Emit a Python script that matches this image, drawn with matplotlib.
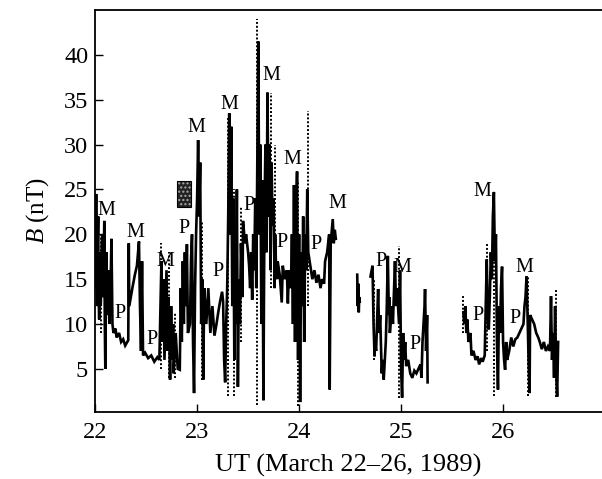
import matplotlib
matplotlib.use("Agg")
import matplotlib.pyplot as plt
from matplotlib.patches import Rectangle

plt.rcParams['font.family'] = ['Liberation Serif', 'DejaVu Serif']
plt.rcParams['mathtext.fontset'] = 'custom'
plt.rcParams['mathtext.it'] = 'Liberation Serif:italic'
plt.rcParams['mathtext.rm'] = 'Liberation Serif'

# ---- data: solid trace segments (time in days of March 1989, B in nT) ----
seg1_t = [22.00, 22.005, 22.01, 22.015, 22.02, 22.025, 22.03, 22.035, 22.04, 22.045, 22.05, 22.055, 22.06,
          22.065, 22.07, 22.075, 22.08, 22.085, 22.09, 22.095, 22.10, 22.105,
          22.11, 22.12, 22.13, 22.14, 22.15, 22.16, 22.17, 22.18, 22.20, 22.21, 22.235, 22.255, 22.275,
          22.295, 22.315, 22.325, 22.33, 22.335, 22.365, 22.39, 22.41, 22.43, 22.44, 22.45, 22.46, 22.47,
          22.49, 22.52, 22.55, 22.58, 22.61, 22.63, 22.65, 22.655, 22.67, 22.68, 22.70, 22.71, 22.72,
          22.735, 22.745, 22.755, 22.765, 22.77, 22.79, 22.81, 22.83, 22.84, 22.85, 22.86, 22.87, 22.88,
          22.89, 22.90, 22.91, 22.93, 22.94, 22.95, 22.96, 22.97, 22.98, 22.99, 23.00, 23.01, 23.02,
          23.03, 23.04, 23.05, 23.06, 23.07, 23.09, 23.11, 23.13, 23.15, 23.17, 23.19, 23.21, 23.225,
          23.245, 23.255, 23.265, 23.275, 23.285, 23.295, 23.305, 23.315, 23.325, 23.335, 23.345, 23.355,
          23.365, 23.37, 23.38, 23.39, 23.40, 23.41, 23.42, 23.43, 23.445, 23.45, 23.47, 23.48, 23.50,
          23.51, 23.52, 23.53, 23.54, 23.55, 23.56, 23.57, 23.58, 23.59, 23.60, 23.61, 23.62, 23.63,
          23.64, 23.65, 23.66, 23.67, 23.68, 23.69, 23.70, 23.71, 23.72, 23.73, 23.74, 23.75, 23.76,
          23.765, 23.775, 23.785, 23.79, 23.81, 23.83, 23.84, 23.86, 23.88, 23.89, 23.90, 23.92, 23.93,
          23.94, 23.95, 23.96, 23.97, 23.98, 23.99, 24.00, 24.01, 24.02, 24.03, 24.04, 24.05, 24.06,
          24.07, 24.08, 24.09, 24.11, 24.13, 24.15, 24.17, 24.19, 24.21, 24.225, 24.245, 24.255, 24.275,
          24.295, 24.30, 24.31, 24.33, 24.34, 24.35, 24.36]
seg1_b = [20, 14, 24.5, 15, 12, 19, 22, 13, 10.5, 16, 18, 12, 14,
          19, 20, 15, 13, 17, 21.5, 10, 5, 12,
          18, 11, 16, 10, 13, 19.5, 10, 9, 9.5, 8.5, 9, 8, 8.3,
          7.6, 8.0, 8.2, 19, 12, 14, 15.5, 16.5, 19.2, 12, 7, 17, 6.5,
          6.8, 6.2, 6.5, 5.8, 6.3, 6.0, 17, 8, 15, 6, 16, 7, 13,
          3.8, 12, 6, 10, 4.5, 9, 5, 4.9, 14, 8, 17, 10, 18,
          12, 18.9, 9, 10, 17, 20, 8, 2.3, 14, 20, 24, 30.5, 22,
          28, 10, 15, 3.8, 14, 10, 14, 9, 12, 8.7, 10, 11.5, 12.5,
          13.6, 12.5, 6, 3.5, 10, 14, 22, 33.5, 20, 32, 12, 24,
          6, 18, 10, 25, 3, 15, 10, 19, 13, 21.5, 19, 20, 18,
          16.5, 14, 18, 12.7, 20, 16, 24, 14, 28, 41.5, 20, 30, 10,
          26, 1.5, 22, 30, 18, 35.8, 22, 30, 16, 28, 21, 24, 14,
          20, 16, 15, 17, 15.5, 12.4, 16.5, 15, 16, 12.3, 16, 14, 20,
          10, 25.5, 8, 22, 27, 6, 20, 1.3, 18, 12, 22, 8, 20,
          16, 25, 18, 16.5, 15, 16, 14.6, 15.5, 14, 15, 14.5, 17, 18,
          20, 2.7, 19, 21.7, 19, 20.5, 19.5]

seg2_t = [24.57, 24.575, 24.58, 24.585, 24.59, 24.595]
seg2_b = [15.5, 12, 14.5, 11.3, 13, 12.5]

seg3_t = [24.70, 24.72, 24.73, 24.74, 24.745, 24.755, 24.775, 24.785, 24.795, 24.81, 24.82, 24.83,
          24.85, 24.86, 24.87, 24.88, 24.885, 24.89, 24.91, 24.92, 24.94, 24.95, 24.96, 24.98, 24.99,
          25.00, 25.01, 25.02, 25.03, 25.04, 25.05, 25.07, 25.09, 25.11, 25.13, 25.15, 25.17, 25.19,
          25.20, 25.21, 25.23, 25.235, 25.245, 25.255, 25.26]
seg3_b = [15.3, 16.5, 10, 6.4, 8, 7, 13.9, 9, 11, 4.5, 6, 3.8,
          8, 12, 17.6, 11, 13, 9, 12, 10, 17, 12, 14, 10, 16,
          5, 1.8, 9, 6, 8, 5.3, 6, 4.5, 4.0, 4.8, 4.5, 5, 5.5,
          4, 8, 12, 13.9, 7, 11, 3.5]

seg4_t = [25.61, 25.62, 25.63, 25.64, 25.65, 25.66, 25.68, 25.69, 25.71, 25.73, 25.75, 25.765,
          25.785, 25.80, 25.82, 25.83, 25.84, 25.85, 25.86, 25.87, 25.88, 25.89, 25.90, 25.91, 25.92,
          25.93, 25.94, 25.95, 25.96, 25.97, 25.98, 25.99, 26.00, 26.01, 26.02, 26.03, 26.04, 26.06,
          26.08, 26.10, 26.12, 26.14, 26.16, 26.18, 26.20, 26.21, 26.22, 26.23, 26.24, 26.25, 26.26,
          26.265, 26.285, 26.305, 26.325, 26.345, 26.36, 26.38, 26.40, 26.42, 26.44, 26.46, 26.47,
          26.48, 26.49, 26.50, 26.51, 26.52, 26.53, 26.54]
seg4_b = [11.3, 10, 12, 9, 10.5, 8, 9, 6.5, 7, 6, 6.4, 5.5,
          6.2, 5.8, 6.5, 12, 17.2, 11, 9.4, 13, 18, 15, 22, 24.7, 17,
          20, 8, 2.7, 12, 9, 14, 16.4, 8, 6, 4.9, 8, 6, 7,
          8.5, 7.5, 8.3, 8.5, 9, 9.5, 10, 12, 13, 15.3, 11, 6, 2.3,
          11, 10.5, 10, 9, 8.5, 8, 7.2, 8, 7, 7.5, 7, 13.1,
          6, 9, 4, 12, 5, 1.9, 8]

# ---- data: dotted spikes (time, low, high) ----
spike_t = [22.06, 22.65, 22.72, 22.78, 23.05, 23.30, 23.36, 23.43, 23.59, 23.72, 23.76,
           23.99, 24.09, 24.73, 24.98, 25.61, 25.84, 25.91, 26.24, 26.52]
spike_lo = [9, 5, 4, 4, 3.8, 2, 2, 8, 1, 14, 16, 0.9, 12, 6, 1.8, 9, 7, 2, 2, 1.9]
spike_hi = [20, 19, 18, 11.3, 21.4, 33, 25, 23, 44, 35.8, 30, 26, 33.7, 15, 18.7, 13.1, 18.9, 24.9, 15.3, 13.9]

# ---- annotations ----
m_t = [22.108, 22.39, 22.69, 22.99, 23.32, 23.73, 23.93, 24.38, 25.01, 25.80, 26.21]
m_b = [22.7, 20.2, 17.0, 31.9, 34.5, 37.7, 28.3, 23.4, 16.3, 24.8, 16.3]
p_t = [22.245, 22.56, 22.87, 23.20, 23.51, 23.83, 24.17, 24.80, 25.14, 25.75, 26.12]
p_b = [11.2, 8.3, 20.6, 15.8, 23.2, 19.1, 18.9, 17.0, 7.7, 11.0, 10.6]

box_t = [22.80, 22.94]
box_b = [23.1, 25.9]

xticks = [22, 23, 24, 25, 26]
yticks = [5, 10, 15, 20, 25, 30, 35, 40]

fig = plt.figure(figsize=(6.02, 4.79), dpi=100)
ax = fig.add_axes([0.158, 0.140, 0.842, 0.839])

for t, b in [(seg1_t, seg1_b), (seg2_t, seg2_b), (seg3_t, seg3_b), (seg4_t, seg4_b)]:
    ax.plot(t, b, color='black', lw=1.9, solid_joinstyle='miter')

ax.vlines(spike_t, spike_lo, spike_hi, colors='black', linestyles=(0, (1, 1)), lw=1.4)

for t, b in zip(m_t, m_b):
    ax.text(t, b, 'M', ha='center', va='center', fontsize=14.5)
for t, b in zip(p_t, p_b):
    ax.text(t, b, 'P', ha='center', va='center', fontsize=14.5)

rect = Rectangle((box_t[0], box_b[0]), box_t[1] - box_t[0], box_b[1] - box_b[0],
                 facecolor='#222222', edgecolor='#aaaaaa', hatch='....', lw=0)
ax.add_patch(rect)
ax.add_patch(Rectangle((box_t[0], box_b[0]), box_t[1] - box_t[0], box_b[1] - box_b[0],
                       facecolor='none', edgecolor='black', lw=0.8))

ax.set_xlim(22, 26.97)
ax.set_ylim(0.2, 45)
ax.set_xticks(xticks)
ax.set_yticks(yticks)
ax.tick_params(direction='in', length=6, width=1, labelsize=17.5, top=False, right=False)
ax.tick_params(axis='x', pad=7)
ax.tick_params(axis='y', pad=5)
ax.spines['right'].set_visible(False)
for s in ['left', 'top', 'bottom']:
    ax.spines[s].set_linewidth(1.3)

ax.set_xlabel('UT (March 22–26, 1989)', fontsize=19, labelpad=8)
ax.set_ylabel('$B$ (nT)', fontsize=18, labelpad=9)

fig.savefig('out.png', dpi=100)
